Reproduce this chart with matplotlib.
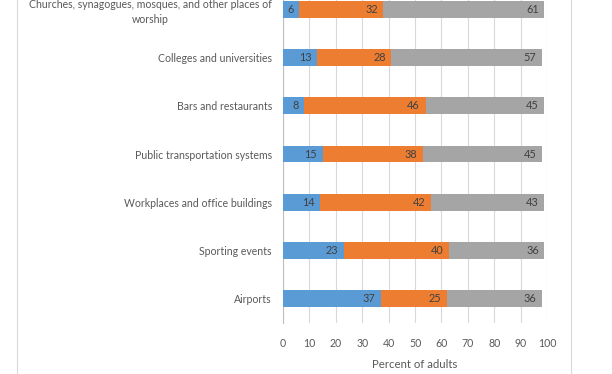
import matplotlib.pyplot as plt

places = [
    "Churches, synagogues, mosques, and other places of\nworship",
    "Colleges and universities",
    "Bars and restaurants",
    "Public transportation systems",
    "Workplaces and office buildings",
    "Sporting events",
    "Airports",
]
first_vals = [6, 13, 8, 15, 14, 23, 37]
second_vals = [32, 28, 46, 38, 42, 40, 25]
third_vals = [61, 57, 45, 45, 43, 36, 36]
x_ticks = [0, 10, 20, 30, 40, 50, 60, 70, 80, 90, 100]

colors = ["#5B9BD5", "#ED7D31", "#A5A5A5"]
text_color = "#595959"

plt.rcParams["font.family"] = ["Lato", "DejaVu Sans"]

fig = plt.figure(figsize=(6.12, 3.74), dpi=100, facecolor="white")
ax = fig.add_axes([283 / 612, 1 - 323 / 374, (547 - 283) / 612, 338 / 374])

ypos = list(range(len(places)))
left = [0] * len(places)
for vals, col in zip([first_vals, second_vals, third_vals], colors):
    ax.barh(ypos, vals, left=left, height=0.35, color=col, zorder=3)
    for y, v, l in zip(ypos, vals, left):
        ax.annotate(str(v), xy=(l + v, y), xytext=(-4, 0), textcoords="offset points",
                    ha="right", va="center", fontsize=7.8, color="#404040", zorder=4)
    left = [a + b for a, b in zip(left, vals)]

ax.set_ylim(len(places) - 0.5, -0.5)
ax.set_xlim(0, 100)
ax.set_xticks(x_ticks)
ax.set_yticks(ypos)
ax.set_yticklabels(places, multialignment="center", linespacing=1.45)
ax.tick_params(axis="both", length=0, labelsize=7.6, labelcolor=text_color)
ax.tick_params(axis="y", pad=8)
ax.tick_params(axis="x", pad=11)
ax.grid(axis="x", color="#D9D9D9", linewidth=0.8, zorder=0)
for side in ["top", "right", "bottom"]:
    ax.spines[side].set_visible(False)
ax.spines["left"].set_color("#BFBFBF")
ax.spines["left"].set_linewidth(0.8)
ax.set_xlabel("Percent of adults", fontsize=8.2, color=text_color, labelpad=7)

# light frame lines of the original chart area
for xf in [17 / 612, 571 / 612]:
    fig.add_artist(plt.Line2D([xf, xf], [0, 1], transform=fig.transFigure,
                              color="#D9D9D9", linewidth=0.8))

fig.savefig("out.png", dpi=100)
